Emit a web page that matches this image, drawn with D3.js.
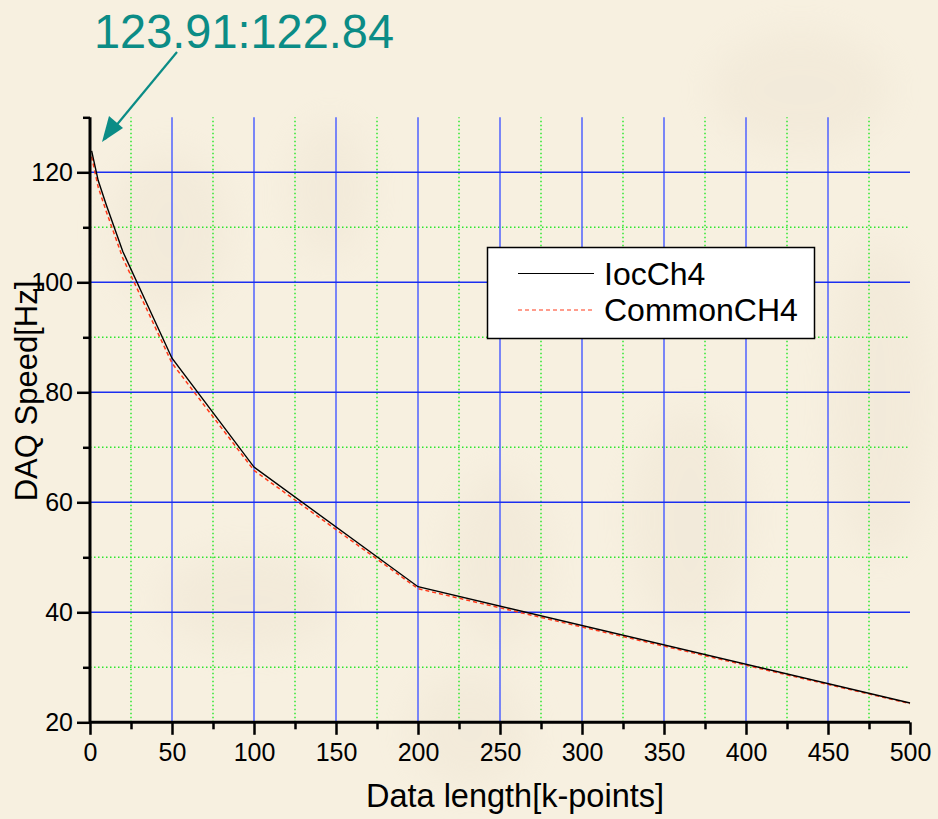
<!DOCTYPE html>
<html>
<head>
<meta charset="utf-8">
<script src="https://cdn.jsdelivr.net/npm/d3@7"></script>
<style>
  html, body { margin: 0; padding: 0; background: #f7f0e0; }
  svg { display: block; font-family: "Liberation Sans", Arial, sans-serif; }
</style>
</head>
<body>
<svg id="chart" width="938" height="819"></svg>
<script>
// DAQ speed vs data length

// data length in k-points
const lengths = [1, 5, 10, 20, 50, 100, 200, 500];
// DAQ speed [Hz]
const iocCh4 = [123.91, 118.5, 114.0, 105.6, 86.2, 66.4, 44.65, 23.5];
const commonCh4 = [122.84, 117.3, 112.8, 104.4, 85.3, 65.8, 44.3, 23.4];

const xMajor = [0, 50, 100, 150, 200, 250, 300, 350, 400, 450, 500];
const xMinor = [25, 75, 125, 175, 225, 275, 325, 375, 425, 475];
const yMajor = [20, 40, 60, 80, 100, 120];
const yMinor = [30, 50, 70, 90, 110, 130];

const seriesNames = ["IocCh4", "CommonCH4"];
const annotation = "123.91:122.84";

const svg = d3.select("#chart");

const x = d3.scaleLinear().domain([0, 500]).range([90, 910]);
const y = d3.scaleLinear().domain([20, 130]).range([722.3, 117.3]);

// faint watermark blobs in the background
const defs = svg.append("defs");
defs.append("filter").attr("id", "blur")
    .append("feGaussianBlur").attr("stdDeviation", 18);

const blobs = svg.append("g").attr("filter", "url(#blur)").attr("fill", "#ebe1cf").attr("opacity", 0.35);
blobs.append("ellipse").attr("cx", 170).attr("cy", 230).attr("rx", 60).attr("ry", 80);
blobs.append("ellipse").attr("cx", 330).attr("cy", 190).attr("rx", 40).attr("ry", 70);
blobs.append("ellipse").attr("cx", 250).attr("cy", 600).attr("rx", 90).attr("ry", 50);
blobs.append("ellipse").attr("cx", 500).attr("cy", 560).attr("rx", 50).attr("ry", 90);
blobs.append("ellipse").attr("cx", 690).attr("cy", 520).attr("rx", 60).attr("ry", 110);
blobs.append("ellipse").attr("cx", 880).attr("cy", 400).attr("rx", 50).attr("ry", 160);
blobs.append("ellipse").attr("cx", 470).attr("cy", 730).attr("rx", 60).attr("ry", 60);
blobs.append("ellipse").attr("cx", 800).attr("cy", 90).attr("rx", 90).attr("ry", 60);

// grid lines
const grid = svg.append("g");
grid.selectAll(".vminor").data(xMinor).enter().append("line")
    .attr("x1", d => x(d)).attr("x2", d => x(d))
    .attr("y1", y(20)).attr("y2", y(130))
    .attr("stroke", "#2ee82e").attr("stroke-width", 1.5)
    .attr("stroke-dasharray", "1.5,2.5");
grid.selectAll(".hminor").data(yMinor.filter(d => d < 130)).enter().append("line")
    .attr("x1", x(0)).attr("x2", x(500))
    .attr("y1", d => y(d)).attr("y2", d => y(d))
    .attr("stroke", "#2ee82e").attr("stroke-width", 1.5)
    .attr("stroke-dasharray", "1.5,2.5");
grid.selectAll(".vmajor").data(xMajor.filter(d => d > 0 && d < 500)).enter().append("line")
    .attr("x1", d => x(d)).attr("x2", d => x(d))
    .attr("y1", y(20)).attr("y2", y(130))
    .attr("stroke", "#4f62ff").attr("stroke-width", 1.5);
grid.selectAll(".hmajor").data(yMajor.filter(d => d > 20)).enter().append("line")
    .attr("x1", x(0)).attr("x2", x(500))
    .attr("y1", d => y(d)).attr("y2", d => y(d))
    .attr("stroke", "#1a2ef0").attr("stroke-width", 1.5);

// curves
const line = d3.line().x(d => x(d[0])).y(d => y(d[1]));
svg.append("path")
    .datum(lengths.map((d, i) => [d, commonCh4[i]]))
    .attr("d", line).attr("fill", "none")
    .attr("stroke", "#ff3a1a").attr("stroke-width", 1.5)
    .attr("stroke-dasharray", "4,3");
svg.append("path")
    .datum(lengths.map((d, i) => [d, iocCh4[i]]))
    .attr("d", line).attr("fill", "none")
    .attr("stroke", "#000").attr("stroke-width", 1.4);

// axes
const xAxis = svg.append("g").attr("transform", `translate(0,${y(20)})`)
    .call(d3.axisBottom(x).tickValues(xMajor).tickSize(12.5).tickPadding(8).tickFormat(d3.format("d")));
svg.append("g").attr("transform", `translate(0,${y(20)})`)
    .call(d3.axisBottom(x).tickValues(xMinor).tickSize(7).tickFormat(""))
    .select(".domain").remove();
const yAxis = svg.append("g").attr("transform", `translate(${x(0)},0)`)
    .call(d3.axisLeft(y).tickValues(yMajor).tickSize(13).tickPadding(4).tickFormat(d3.format("d")));
svg.append("g").attr("transform", `translate(${x(0)},0)`)
    .call(d3.axisLeft(y).tickValues(yMinor).tickSize(7).tickFormat(""))
    .select(".domain").remove();

svg.selectAll(".domain").attr("stroke", "#000").attr("stroke-width", 3).attr("d", function () {
    return d3.select(this.parentNode).attr("transform").includes(`${x(0)},0`)
        ? `M0,${y(130)}V${y(20)}` : `M${x(0)},0H${x(500)}`;
});
svg.selectAll(".tick line").attr("stroke", "#000").attr("stroke-width", 2.5);
svg.selectAll(".tick text").attr("fill", "#000").attr("font-size", 25)
    .attr("font-family", "'Liberation Sans', Arial, sans-serif");
xAxis.selectAll(".tick text").attr("dy", "0.71em");

// axis titles
svg.append("text").attr("x", 515).attr("y", 807)
    .attr("text-anchor", "middle").attr("font-size", 32.5).attr("fill", "#000")
    .text("Data length[k-points]");
svg.append("text").attr("transform", "translate(37,391) rotate(-90)")
    .attr("text-anchor", "middle").attr("font-size", 31).attr("fill", "#000")
    .text("DAQ Speed[Hz]");

// legend
const legend = svg.append("g");
legend.append("rect").attr("x", 487.5).attr("y", 247.5).attr("width", 327).attr("height", 91)
    .attr("fill", "#fff").attr("stroke", "#000").attr("stroke-width", 1.5);
const legendStyles = [
    { color: "#000", dash: null },
    { color: "#ff3a1a", dash: "4,3" }
];
seriesNames.forEach((name, i) => {
    const ly = 273.5 + i * 36.5;
    legend.append("line").attr("x1", 518).attr("x2", 594).attr("y1", ly).attr("y2", ly)
        .attr("stroke", legendStyles[i].color).attr("stroke-width", 1.2)
        .attr("stroke-dasharray", legendStyles[i].dash);
    legend.append("text").attr("x", 604).attr("y", ly + 11)
        .attr("font-size", 32).attr("fill", "#000").text(name);
});

// annotation with arrow
svg.append("text").attr("x", 94).attr("y", 48)
    .attr("font-size", 49).attr("fill", "#0b8c86")
    .attr("textLength", 300).attr("lengthAdjust", "spacingAndGlyphs")
    .text(annotation);
svg.append("line").attr("x1", 177).attr("y1", 52).attr("x2", 105).attr("y2", 139)
    .attr("stroke", "#0b8c86").attr("stroke-width", 2.2);
svg.append("path")
    .attr("d", "M102,142 L109,116 L123,128 Z")
    .attr("fill", "#0b8c86");
</script>
</body>
</html>
